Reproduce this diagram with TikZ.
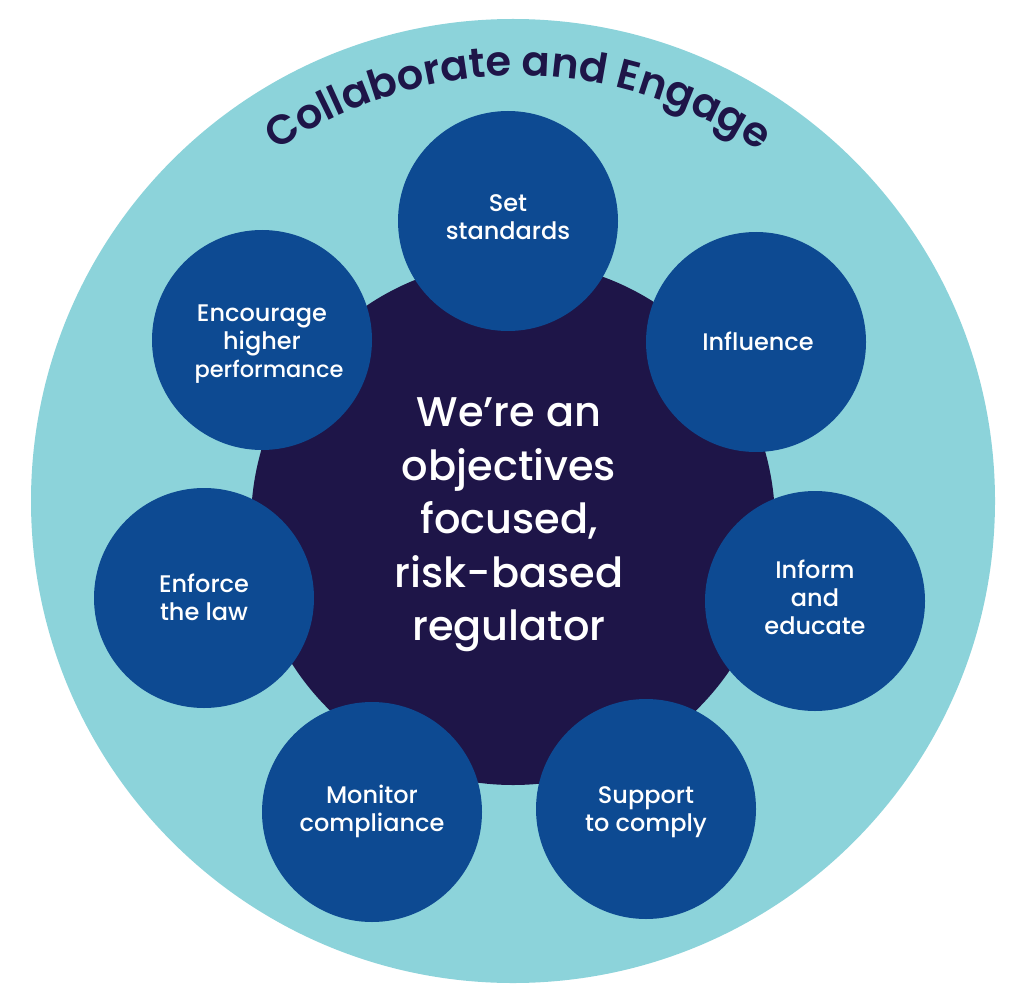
\documentclass[tikz,border=0pt]{standalone}
\usepackage{fontspec}
\setmainfont{Poppins Medium}
\newfontfamily\headfont{Poppins SemiBold}
\usetikzlibrary{decorations.text}
\definecolor{ring}{HTML}{8CD3DA}
\definecolor{core}{HTML}{1E1548}
\definecolor{petal}{HTML}{0D4A92}
\tikzset{
  petalnode/.style={circle,fill=petal,minimum size=220pt,inner sep=0pt},
  petaltext/.style={text=white,align=center,inner sep=0pt,font=\fontsize{24}{28}\selectfont},
}
\begin{document}
\begin{tikzpicture}[x=1pt,y=-1pt]
\useasboundingbox (0,0) rectangle (1024,1000);
\node[circle,fill=ring,minimum size=964pt,inner sep=0pt] (outer) at (513,501) {};
\node[circle,fill=core,minimum size=524pt,inner sep=0pt] (core) at (513,523) {};
\node[text=white,align=center,font=\fontsize{41.5}{53.5}\selectfont] (title) at (509,525) {We’re an\\objectives\\focused,\\risk-based\\regulator};
\node[petalnode] (a) at (508,221) {};
\node[petalnode] (b) at (756,342) {};
\node[petalnode] (c) at (815,601) {};
\node[petalnode] (d) at (646,809) {};
\node[petalnode] (e) at (372,812) {};
\node[petalnode] (f) at (204,598) {};
\node[petalnode] (g) at (262,340) {};
\node[petaltext] (at) at (508,217) {Set\\standards};
\node[petaltext] (bt) at (758,341) {Influence};
\node[petaltext] (ct) at (815,597) {Inform\\and\\educate};
\node[petaltext] (dt) at (646,812) {Support\\to comply};
\node[petaltext] (et) at (372,811) {Monitor\\compliance};
\node[petaltext] (ft) at (204,597) {Enforce\\the law};
\node[petaltext] (gt) at (262,344) {Encourage\\higher\\\hspace*{14pt}{\fontsize{22.5}{28}\selectfont performance}};
\path[decorate,decoration={text along path,text align=center,
  text={|\headfont\fontsize{41.5}{42}\selectfont\color{core}|Collaborate and Engage}}]
  (518,501) ++(-150:425) arc[start angle=-150,end angle=-30,radius=425];
\end{tikzpicture}
\end{document}
